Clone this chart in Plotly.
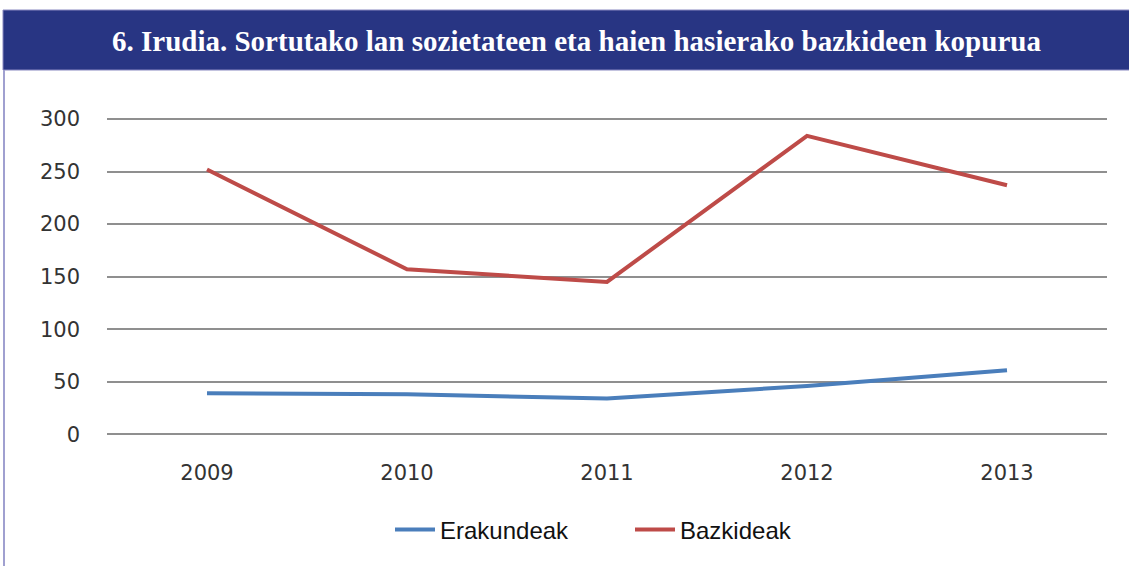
import plotly.graph_objects as go

years = ["2009", "2010", "2011", "2012", "2013"]
erakundeak = [39, 38, 34, 46, 61]
bazkideak = [252, 157, 145, 284, 237]
y_ticks = [0, 50, 100, 150, 200, 250, 300]
title_text = "6. Irudia. Sortutako lan sozietateen eta haien hasierako bazkideen kopurua"

W, H = 1129, 566
ML, MR, MT, MB = 107, 22, 117, 130
PW, PH = W - ML - MR, H - MT - MB
# pixel rows of the 300 and 0 gridlines in the reference
Y300, Y0 = 119.0, 434.3
ppu = (Y0 - Y300) / 300.0
ymin = -((H - MB) - Y0) / ppu
ymax = 300 + (Y300 - MT) / ppu

def px_x(p):
    return (p - ML) / PW

def px_y(p):
    return (H - MB - p) / PH

fig = go.Figure()
fig.add_trace(go.Scatter(x=years, y=erakundeak, mode="lines", name="Erakundeak",
                         line=dict(color="#4a7ebb", width=4)))
fig.add_trace(go.Scatter(x=years, y=bazkideak, mode="lines", name="Bazkideak",
                         line=dict(color="#be4b48", width=4)))

fig.update_layout(
    width=W, height=H,
    margin=dict(l=ML, r=MR, t=MT, b=MB, pad=0),
    paper_bgcolor="white", plot_bgcolor="white",
    showlegend=True,
    legend=dict(orientation="h", x=px_x(390), y=px_y(530), xanchor="left", yanchor="middle",
                font=dict(family="Liberation Sans, Arial", size=24, color="#111"),
                entrywidth=185, entrywidthmode="pixels",
                itemwidth=40, bgcolor="rgba(0,0,0,0)"),
    xaxis=dict(type="category", range=[-0.5, 4.5], showgrid=False, zeroline=False, showline=False,
               ticks="", tickfont=dict(family="DejaVu Sans, Open Sans, Arial", size=21, color="#333"),
               ticklabelstandoff=22),
    yaxis=dict(range=[ymin, ymax], tickvals=y_ticks, showgrid=True, gridcolor="#8f8f8f", gridwidth=2,
               zeroline=False, showline=False, ticks="",
               tickfont=dict(family="DejaVu Sans, Open Sans, Arial", size=21, color="#333"),
               ticklabelstandoff=26),
)

# title bar
fig.add_shape(type="rect", xref="paper", yref="paper",
              x0=px_x(3), x1=px_x(W + 2), y0=px_y(70), y1=px_y(10),
              fillcolor="#283583", line=dict(color="#8888c0", width=1), layer="above")
# left border
fig.add_shape(type="line", xref="paper", yref="paper",
              x0=px_x(4), x1=px_x(4), y0=px_y(70), y1=px_y(H + 5),
              line=dict(color="#a0a0d0", width=2))
fig.add_annotation(text="<b>" + title_text + "</b>", xref="paper", yref="paper",
                   x=px_x(576), y=px_y(41), xanchor="center", yanchor="middle", showarrow=False,
                   font=dict(family="Liberation Serif, Times New Roman, serif", size=29, color="white"))

fig.write_html("out.html", config={"displayModeBar": False},
               post_script="document.body.style.margin='0';")
